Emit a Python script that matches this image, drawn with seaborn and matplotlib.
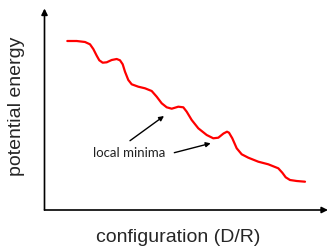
import matplotlib
matplotlib.use("Agg")
import matplotlib.pyplot as plt
import seaborn as sns
import pandas as pd

# Curve (arbitrary units: x = configuration, y = potential energy)
config = [22.8, 32.2, 40.5, 45.5, 48.8, 52.2, 54.8, 58.2, 62.2, 67.2, 72.2, 75.5,
          78.2, 80.5, 83.8, 87.2, 93.8, 100.5, 107.2, 112.2, 117.2, 122.2, 127.2,
          133.8, 138.8, 142.2, 147.2, 153.8, 162.2, 168.8, 173.8, 179.0, 182.5,
          184.5, 187.8, 192.2, 197.2, 203.8, 213.8, 223.8, 233.8, 237.8, 241.2,
          245.5, 252.2, 260.5]
energy = [169.0, 169.0, 168.0, 165.7, 161.0, 154.3, 149.7, 147.3, 147.7, 150.0,
          151.0, 149.7, 145.7, 138.3, 130.0, 125.7, 123.3, 121.7, 119.0, 113.3,
          106.7, 102.7, 101.3, 103.3, 102.7, 98.3, 90.0, 81.7, 75.0, 71.7, 72.3,
          76.5, 78.3, 77.3, 71.7, 61.7, 55.7, 52.3, 48.3, 45.7, 41.7, 37.3, 32.7,
          30.0, 29.0, 28.3]
annotation_text = "local minima"
xlabel = "configuration (D/R)"
ylabel = "potential energy"

df = pd.DataFrame({"config": config, "energy": energy})

sns.set_style("white")
W, H = 333, 248
fig = plt.figure(figsize=(W / 100, H / 100), dpi=100)
# axes box in pixels: left 44.5, right 328, top 8.5, bottom 210
L, R, T, B = 44.5, 328.0, 8.5, 210.0
ax = fig.add_axes([L / W, (H - B) / H, (R - L) / W, (B - T) / H])
ax.set_xlim(0, R - L)
ax.set_ylim(0, B - T)

sns.lineplot(data=df, x="config", y="energy", ax=ax, color="#ff0000",
             linewidth=1.6, sort=False, estimator=None,
             solid_joinstyle="round", solid_capstyle="round")

for s in ax.spines.values():
    s.set_visible(False)
ax.set_xticks([])
ax.set_yticks([])
ax.set_xlabel("")
ax.set_ylabel("")

arrow_kw = dict(arrowstyle="-|>", color="black", lw=1.2, mutation_scale=9,
                shrinkA=0, shrinkB=0)
ax.annotate("", xy=(1, 0), xytext=(0, 0), xycoords="axes fraction",
            textcoords="axes fraction", arrowprops=arrow_kw, annotation_clip=False)
ax.annotate("", xy=(0, 1), xytext=(0, 0), xycoords="axes fraction",
            textcoords="axes fraction", arrowprops=arrow_kw, annotation_clip=False)

def px(x, y):
    return (x - L, B - y)

small_kw = dict(arrowstyle="-|>", color="black", lw=1.0, mutation_scale=7,
                shrinkA=0, shrinkB=0)
ax.annotate("", xy=px(164, 116), xytext=px(130, 140.7), arrowprops=small_kw)
ax.annotate("", xy=px(210.7, 143.3), xytext=px(174.3, 152.7), arrowprops=small_kw)
ax.text(*px(129.5, 156.7), annotation_text, ha="center", va="baseline",
        fontsize=9.5, family="Lato", color="#222222")

fig.text(178.5 / W, (H - 242) / H, xlabel, ha="center", va="baseline",
         fontsize=14, family="Liberation Sans")
fig.text(16.7 / W, (H - 106.5) / H, ylabel, ha="center", va="center",
         rotation=90, fontsize=14, family="Liberation Sans")

fig.savefig("out.png", dpi=100)
